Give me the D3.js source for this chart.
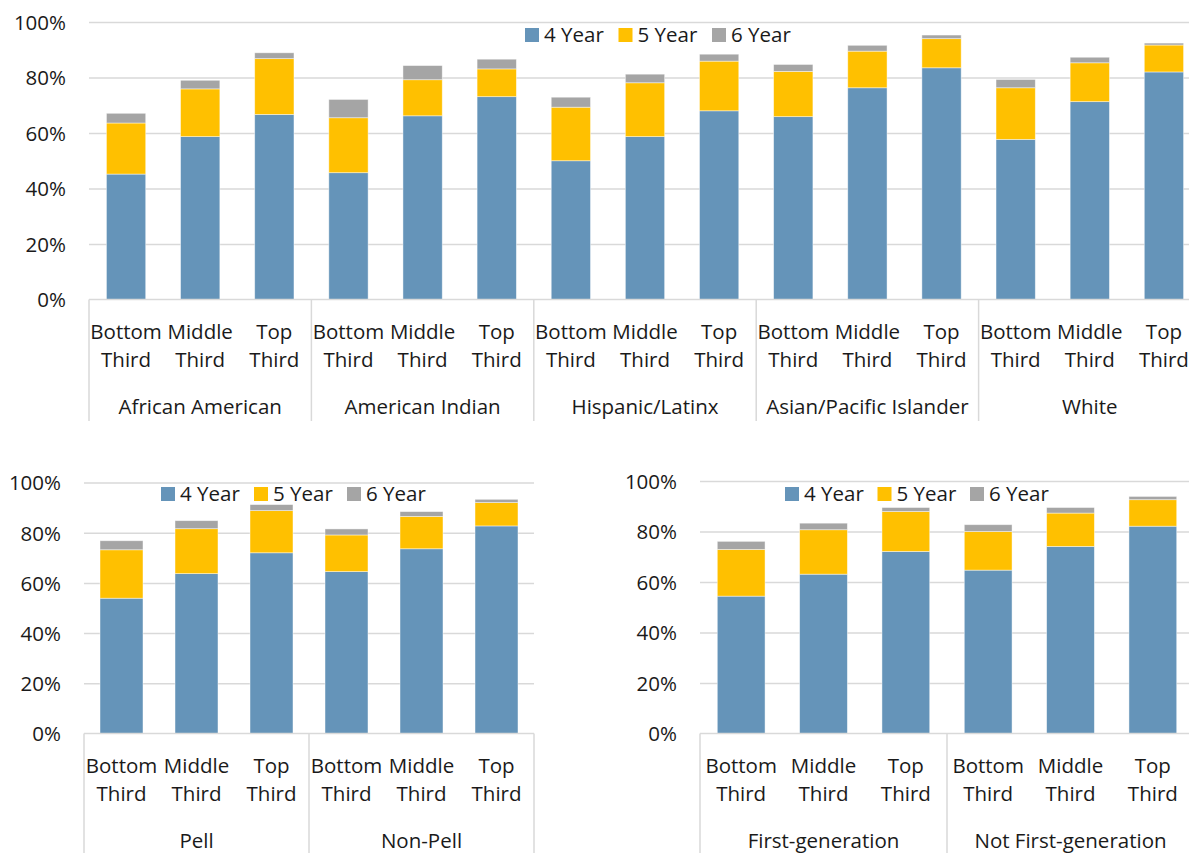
<!DOCTYPE html>
<html>
<head>
<meta charset="utf-8">
<script src="https://cdn.jsdelivr.net/npm/d3@7"></script>
<style>
  html, body { margin: 0; padding: 0; background: #fff; }
  svg { display: block; font-family: "Open Sans", "Noto Sans", sans-serif; }
</style>
</head>
<body>
<svg id="chart" width="1189" height="853"></svg>
<script>
// ---------- data ----------
const seriesNames = ["4 Year", "5 Year", "6 Year"];
const seriesColors = ["#6594B9", "#FFC000", "#A5A5A5"];
const thirds = ["Bottom Third", "Middle Third", "Top Third"];
const thirdLines = [["Bottom", "Third"], ["Middle", "Third"], ["Top", "Third"]];
const yTicks = [0, 20, 40, 60, 80, 100];

const raceGroups = ["African American", "American Indian", "Hispanic/Latinx", "Asian/Pacific Islander", "White"];
const race4yr = [45.2, 58.7, 66.7, 45.7, 66.2, 73.1, 50.0, 58.7, 68.0, 65.9, 76.3, 83.5, 57.7, 71.3, 82.0];
const race5yr = [18.4, 17.2, 20.1, 19.8, 13.0, 10.0, 19.3, 19.4, 17.9, 16.3, 13.2, 10.5, 18.6, 14.0, 9.7];
const race6yr = [3.5, 3.1, 2.1, 6.6, 5.1, 3.5, 3.6, 3.1, 2.5, 2.5, 2.1, 1.3, 3.0, 2.0, 0.7];

const pellGroups = ["Pell", "Non-Pell"];
const pell4yr = [53.9, 63.7, 72.0, 64.5, 73.6, 82.7];
const pell5yr = [19.3, 17.9, 16.8, 14.6, 12.9, 9.3];
const pell6yr = [3.6, 3.2, 2.4, 2.4, 1.9, 1.3];

const genGroups = ["First-generation", "Not First-generation"];
const gen4yr = [54.4, 63.1, 72.1, 64.7, 74.1, 82.1];
const gen5yr = [18.5, 17.6, 15.8, 15.3, 13.2, 10.5];
const gen6yr = [3.2, 2.6, 1.6, 2.7, 2.2, 1.3];

// ---------- drawing ----------
const svg = d3.select("#chart");
const FONT = 20.5;
const TEXT = "#1a1a1a";
const GRID = "#d9d9d9";

function panel(cfg) {
  const rows = [];
  cfg.groups.forEach((g, gi) => {
    thirds.forEach((t, ti) => {
      const i = gi * thirds.length + ti;
      rows.push({ key: g + "|" + t, group: g, third: ti,
        "4 Year": cfg.s4[i], "5 Year": cfg.s5[i], "6 Year": cfg.s6[i] });
    });
  });
  const stacked = d3.stack().keys(seriesNames)(rows);

  const x = d3.scaleBand().domain(rows.map(d => d.key))
    .range([cfg.left, cfg.right]).paddingInner(cfg.pad).paddingOuter(cfg.pad / 2);
  const xg = d3.scaleBand().domain(cfg.groups).range([cfg.left, cfg.right]).padding(0);
  const y = d3.scaleLinear().domain([0, 100]).range([cfg.y0, cfg.y100]);

  const g = svg.append("g");

  // gridlines
  const grid = g.append("g").attr("transform", `translate(${cfg.left},0)`)
    .call(d3.axisLeft(y).tickValues(yTicks.filter(v => v > 0)).tickSize(-(cfg.right - cfg.left)).tickFormat(""));
  grid.select(".domain").remove();
  grid.selectAll("line").attr("stroke", GRID).attr("stroke-width", 1.5);

  // y tick labels
  const yax = g.append("g").attr("transform", `translate(${cfg.left - 23},0)`)
    .call(d3.axisLeft(y).tickValues(yTicks).tickSize(0).tickPadding(0).tickFormat(d => d + "%"));
  yax.select(".domain").remove();
  yax.selectAll("text").attr("font-size", FONT).attr("fill", TEXT)
    .attr("font-family", '"Open Sans", "Noto Sans", sans-serif').attr("dy", "0.36em");

  // bars
  stacked.forEach((layer, si) => {
    g.append("g").selectAll("rect").data(layer).join("rect")
      .attr("x", d => x(d.data.key))
      .attr("width", x.bandwidth())
      .attr("y", d => y(d[1]))
      .attr("height", d => y(d[0]) - y(d[1]))
      .attr("fill", seriesColors[si])
      .attr("stroke", "#ffffff").attr("stroke-opacity", 0.55).attr("stroke-width", 0.8);
  });

  // category axis line
  g.append("line").attr("x1", cfg.left).attr("x2", cfg.right)
    .attr("y1", cfg.y0).attr("y2", cfg.y0).attr("stroke", GRID).attr("stroke-width", 1.5);
  // group separators
  const bounds = cfg.groups.map(gr => xg(gr)).concat([cfg.right]);
  g.append("g").selectAll("line").data(bounds).join("line")
    .attr("x1", d => d).attr("x2", d => d)
    .attr("y1", cfg.y0).attr("y2", cfg.sepBottom)
    .attr("stroke", GRID).attr("stroke-width", 1.5);

  // category labels (two lines)
  const cat = g.append("g").attr("font-size", FONT).attr("fill", TEXT).attr("text-anchor", "middle");
  rows.forEach(d => {
    const cx = x(d.key) + x.bandwidth() / 2;
    thirdLines[d.third].forEach((line, li) => {
      cat.append("text").attr("x", cx).attr("y", cfg.y0 + 39 + li * 28.7).text(line);
    });
  });
  // group labels
  cfg.groups.forEach(gr => {
    cat.append("text").attr("x", xg(gr) + xg.bandwidth() / 2).attr("y", cfg.y0 + 114).text(gr);
  });

  // legend
  const leg = g.append("g");
  seriesNames.forEach((s, i) => {
    const lx = cfg.legendX + i * cfg.legendStep;
    leg.append("rect").attr("x", lx).attr("y", cfg.legendBase - 14)
      .attr("width", 14).attr("height", 14).attr("fill", seriesColors[i]);
    leg.append("text").attr("x", lx + 19).attr("y", cfg.legendBase)
      .attr("font-size", FONT).attr("fill", TEXT).text(s);
  });
}

panel({ groups: raceGroups, s4: race4yr, s5: race5yr, s6: race6yr,
  left: 89, right: 1201, y0: 299.5, y100: 22, pad: 0.47, sepBottom: 421,
  legendX: 525, legendStep: 93.5, legendBase: 42 });

panel({ groups: pellGroups, s4: pell4yr, s5: pell5yr, s6: pell6yr,
  left: 84, right: 534, y0: 733.5, y100: 482.5, pad: 0.427, sepBottom: 853,
  legendX: 161, legendStep: 93, legendBase: 501 });

panel({ groups: genGroups, s4: gen4yr, s5: gen5yr, s6: gen6yr,
  left: 700, right: 1194, y0: 733.5, y100: 481, pad: 0.42, sepBottom: 853,
  legendX: 785, legendStep: 92.5, legendBase: 501 });
</script>
</body>
</html>
